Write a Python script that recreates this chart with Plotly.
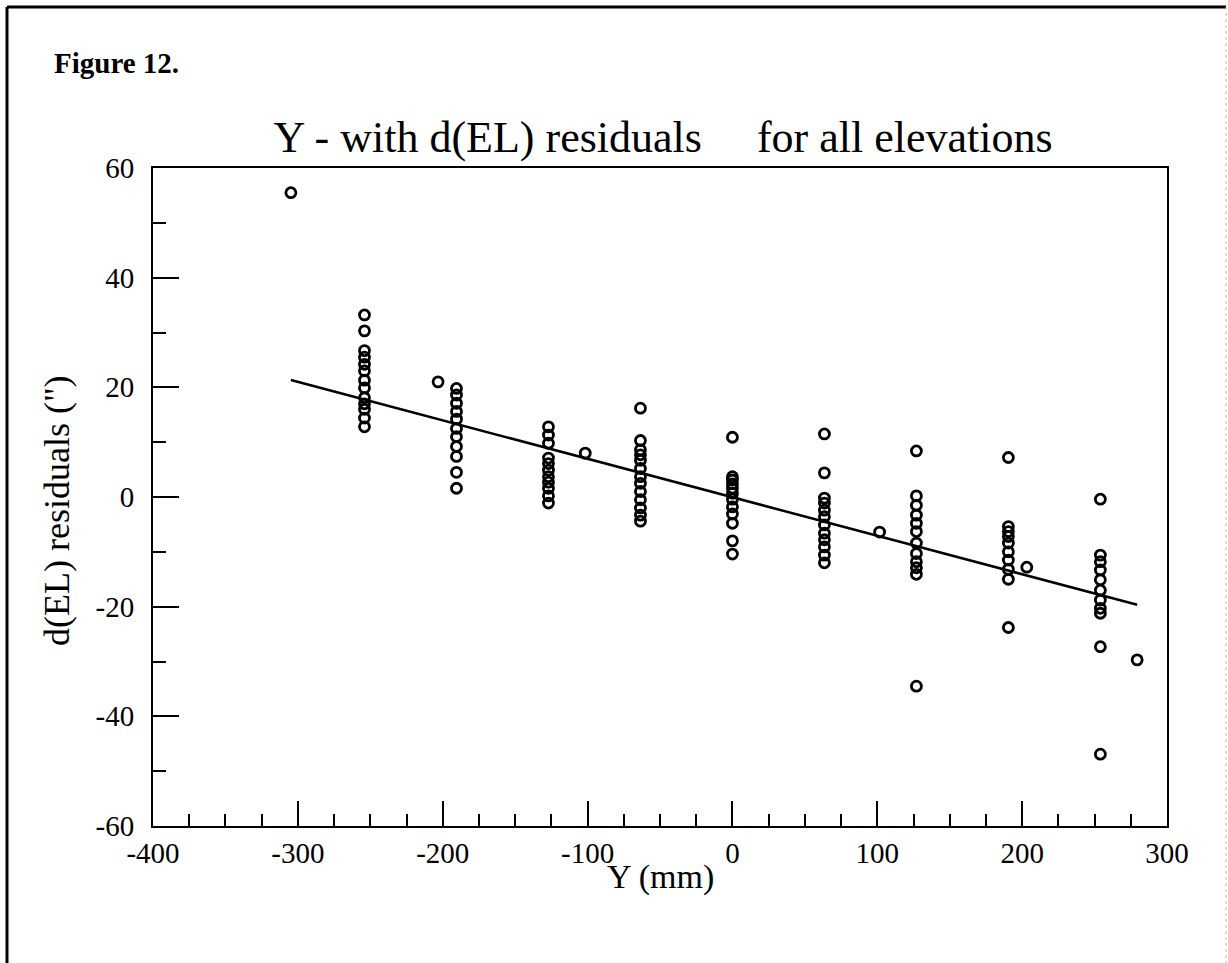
import plotly.graph_objects as go

# ---- data ----
positions = [-304.8, -254.0, -203.2, -190.5, -127.0, -101.6, -63.5, 0.0,
             63.5, 101.6, 127.0, 190.5, 203.2, 254.0, 279.4]
residuals = [
    [55.5],
    [33.2, 30.3, 26.7, 25.5, 24.2, 23.0, 21.3, 19.9, 18.1, 17.0, 16.0, 14.4, 12.8],
    [21.0],
    [19.8, 18.6, 17.1, 15.6, 14.2, 12.5, 11.0, 9.2, 7.4, 4.5, 1.6],
    [12.8, 11.3, 9.8, 7.1, 6.1, 4.9, 3.7, 2.7, 1.6, 0.2, -1.1],
    [8.0],
    [16.2, 10.3, 8.6, 7.7, 6.7, 5.2, 3.7, 2.5, 1.0, -0.5, -2.0, -3.3, -4.4],
    [10.9, 3.7, 3.1, 2.4, 1.6, 0.7, -0.4, -1.8, -3.1, -4.8, -8.0, -10.4],
    [11.5, 4.4, -0.2, -1.1, -2.4, -3.6, -5.1, -6.6, -7.8, -9.1, -10.6, -12.0],
    [-6.4],
    [8.4, 0.2, -1.5, -3.3, -4.8, -6.3, -8.4, -10.3, -11.8, -12.9, -14.1, -34.5],
    [7.2, -5.4, -6.3, -7.2, -8.4, -10.0, -11.5, -13.2, -15.0, -23.8],
    [-12.8],
    [-0.4, -10.6, -11.8, -13.3, -15.1, -17.0, -18.8, -20.3, -21.2, -27.3, -46.9],
    [-29.7],
]
fit_slope = -0.0702
fit_intercept = -0.05

x_ticks = [-400, -300, -200, -100, 0, 100, 200, 300]
y_ticks = [-60, -40, -20, 0, 20, 40, 60]

xs, ys = [], []
for p, vals in zip(positions, residuals):
    for v in vals:
        xs.append(p)
        ys.append(v)

fit_x = [min(xs), max(xs)]
fit_y = [fit_slope * v + fit_intercept for v in fit_x]

FONT = "Liberation Serif, Times New Roman, serif"

fig = go.Figure()
fig.add_trace(go.Scatter(
    x=xs, y=ys, mode="markers",
    marker=dict(symbol="circle-open", size=10, color="black",
                line=dict(width=2.8, color="black")),
    showlegend=False, hoverinfo="x+y"))
fig.add_trace(go.Scatter(
    x=fit_x, y=fit_y, mode="lines",
    line=dict(color="black", width=2.5), showlegend=False))

W, H = 1228, 963
L, R, T, B = 153, 1167, 168, 826

axis_common = dict(
    showgrid=False, zeroline=False, showline=True, linecolor="black",
    linewidth=2, mirror=True, ticks="inside", tickcolor="black",
    tickwidth=2, tickfont=dict(family=FONT, size=29, color="black"),
)
fig.update_xaxes(range=[-400, 300], tickvals=x_ticks,
                 ticktext=[str(v) for v in x_ticks], ticklen=25,
                 minor=dict(dtick=25, ticks="inside", ticklen=12,
                            tickwidth=2, tickcolor="black"),
                 ticklabelstandoff=0, **axis_common)
fig.update_yaxes(range=[-60, 60], tickvals=y_ticks,
                 ticktext=[str(v) for v in y_ticks], ticklen=26,
                 minor=dict(dtick=10, ticks="inside", ticklen=13,
                            tickwidth=2, tickcolor="black"),
                 ticklabelstandoff=11, **axis_common)

def px_x(px):
    return (px - L) / (R - L)

def px_y(py):
    return (B - py) / (B - T)

fig.update_layout(
    width=W, height=H,
    margin=dict(l=L, r=W - R, t=T, b=H - B),
    paper_bgcolor="white", plot_bgcolor="white",
    font=dict(family=FONT, color="black"),
    title=dict(text="Y - with d(EL) residuals\u00a0\u00a0\u00a0\u00a0 for all elevations",
               x=663 / W, xanchor="center", y=1 - 137 / H, yanchor="middle",
               xref="container", yref="container",
               font=dict(family=FONT, size=44, color="black")),
    annotations=[
        dict(text="<b>Figure 12.</b>", xref="paper", yref="paper",
             x=px_x(52), y=px_y(63), xanchor="left", yanchor="middle",
             showarrow=False, font=dict(family=FONT, size=29, color="black")),
        dict(text="d(EL) residuals (\")", xref="paper", yref="paper",
             x=px_x(57), y=px_y(511), xanchor="center", yanchor="middle",
             textangle=-90, showarrow=False,
             font=dict(family=FONT, size=36, color="black")),
        dict(text="Y (mm)", xref="paper", yref="paper",
             x=px_x(660), y=px_y(877), xanchor="center", yanchor="middle",
             showarrow=False, font=dict(family=FONT, size=34, color="black")),
    ],
    shapes=[
        dict(type="line", xref="paper", yref="paper",
             x0=px_x(7), x1=px_x(1226), y0=px_y(7), y1=px_y(7),
             line=dict(color="black", width=3)),
        dict(type="line", xref="paper", yref="paper",
             x0=px_x(7), x1=px_x(7), y0=px_y(7), y1=px_y(970),
             line=dict(color="black", width=3)),
        dict(type="line", xref="paper", yref="paper",
             x0=px_x(1226), x1=px_x(1226), y0=px_y(7), y1=px_y(970),
             line=dict(color="#bbbbbb", width=1, dash="dot")),
    ],
)

fig.write_html("out.html")
